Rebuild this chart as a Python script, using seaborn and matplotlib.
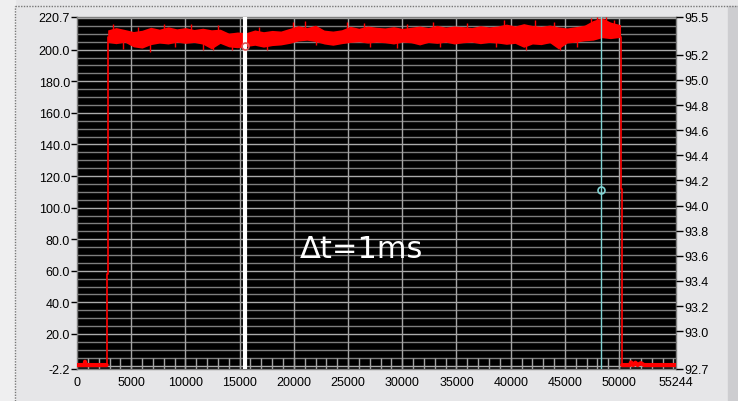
import numpy as np
import seaborn as sns
import matplotlib.pyplot as plt
from matplotlib.lines import Line2D
from matplotlib.patches import Rectangle

# axis ranges and ticks
x_min, x_max = 0, 55244
y_min, y_max = -2.2, 220.7
r_min, r_max = 92.7, 95.5

x_ticks = [0, 5000, 10000, 15000, 20000, 25000, 30000, 35000, 40000, 45000, 50000, 55244]
y_ticks = [-2.2, 20, 40, 60, 80, 100, 120, 140, 160, 180, 200, 220.7]
y_labels = ['-2.2', '20.0', '40.0', '60.0', '80.0', '100.0', '120.0', '140.0',
            '160.0', '180.0', '200.0', '220.7']
r_ticks = [92.7, 93.0, 93.2, 93.4, 93.6, 93.8, 94.0, 94.2, 94.4, 94.6, 94.8, 95.0, 95.2, 95.5]

# trace: low level, rising edge, falling edge, low level again
low_start_x = [0, 700, 740, 790, 2733]
low_start_y = [0.3, 0.3, 2.4, 0.3, 0.3]
rise_x = [2733, 2733, 2826, 2826]
rise_y = [0.3, 58.0, 58.0, 208.0]
fall_x = [50130, 50130, 50277, 50277]
fall_y = [208.0, 111.5, 111.5, 0.3]
low_end_x = [50277, 51000, 51100, 51300, 51500, 51700, 52000, 52300, 53000, 55244]
low_end_y = [0.3, 0.3, 2.0, 0.3, 1.8, 0.3, 1.5, 0.3, 0.3, 0.3]

# noisy plateau, upper and lower envelope
band_x = [2830, 3600, 4400, 5200, 6000, 6800, 7600, 8400, 9200, 10000,
          10800, 11600, 12400, 13200, 14000, 14800, 15600, 16400, 17200, 18000,
          18800, 19600, 20400, 21200, 22000, 22800, 23600, 24400, 25200, 26000,
          26800, 27600, 28400, 29200, 30000, 30800, 31600, 32400, 33200, 34000,
          34800, 35600, 36400, 37200, 38000, 38800, 39600, 40400, 41200, 42000,
          42800, 43600, 44400, 45200, 46000, 46800, 47600, 48400, 49200, 50130]
band_hi = [212.5, 214.0, 212.8, 211.5, 212.3, 214.2, 213.0, 214.5, 213.2, 214.0,
           212.8, 213.6, 212.6, 213.0, 210.5, 211.2, 210.8, 212.5, 211.4, 212.2,
           211.8, 213.5, 215.2, 214.0, 215.5, 212.4, 211.8, 212.6, 214.8, 213.6,
           215.0, 214.2, 213.8, 214.6, 213.5, 214.2, 215.0, 214.0, 215.4, 214.3,
           215.0, 214.6, 214.0, 215.2, 214.4, 215.0, 216.2, 215.0, 216.5, 215.3,
           214.8, 215.6, 214.4, 213.8, 214.6, 215.5, 218.5, 220.2, 217.5, 215.8]
band_lo = [204.6, 203.8, 204.8, 201.8, 201.0, 203.2, 204.2, 203.6, 204.8, 204.0,
           204.6, 203.5, 200.5, 204.0, 201.8, 201.2, 202.0, 202.8, 201.6, 202.6,
           203.0, 204.0, 205.5, 206.0, 205.2, 203.6, 202.8, 203.8, 204.6, 205.0,
           204.2, 204.8, 204.4, 203.6, 204.8, 204.4, 203.0, 204.6, 204.0, 204.8,
           203.6, 204.4, 204.8, 203.8, 204.6, 204.2, 203.4, 204.0, 201.5, 203.6,
           203.2, 204.4, 200.5, 204.2, 204.8, 205.6, 206.0, 207.6, 207.0, 207.8]
band_mid = 208.5

# single noise spikes sticking out of the band
spike_x = [3300, 4200, 5600, 6700, 8000, 9000, 10500, 11600, 12500, 13000,
           14300, 16800, 17500, 19900, 21000, 22000, 24900, 26500, 27000, 29500,
           30400, 32800, 33500, 36000, 38600, 39400, 41400, 42200, 44000, 44500,
           46100, 47400, 48000, 48800, 49500]
spike_y = [216.0, 200.5, 214.5, 198.7, 216.5, 202.0, 216.0, 200.0, 199.5, 215.5,
           199.8, 214.5, 200.0, 217.5, 218.0, 203.0, 217.5, 217.0, 202.0, 201.0,
           216.5, 217.5, 201.5, 217.0, 201.5, 218.5, 199.8, 218.5, 217.5, 199.5,
           202.0, 220.0, 221.0, 220.5, 219.0]

# cursors
cursor1_x, cursor1_y = 15533, 202.5
cursor2_x, cursor2_y = 48310, 111.2

sns.set_style('dark')
plt.rcParams['font.family'] = ['Liberation Sans', 'DejaVu Sans']

fig = plt.figure(figsize=(7.38, 4.02), dpi=100, facecolor='#E6E6E8')
ax = fig.add_axes([77 / 738, 1 - 370 / 402, 599 / 738, 352 / 402])
ax.set_facecolor('black')

# panel decoration
fig.patches.append(Rectangle((0, 0), 15 / 738, 1, transform=fig.transFigure,
                             color='#EFEFF0', zorder=-5))
fig.patches.append(Rectangle((728 / 738, 0), 10 / 738, 1 - 7 / 402, transform=fig.transFigure,
                             color='#CDCDD0', zorder=-5))
fig.lines.append(Line2D([15 / 738, 1], [1 - 7 / 402, 1 - 7 / 402], transform=fig.transFigure,
                        color='#777777', lw=1, ls=(0, (1, 1))))
fig.lines.append(Line2D([15 / 738, 15 / 738], [0, 1 - 7 / 402], transform=fig.transFigure,
                        color='#777777', lw=1, ls=(0, (1, 1))))

# grid
for v in np.arange(0, 221, 5):
    c = '#ABABAB' if v % 20 == 0 else '#7E7E7E'
    ax.axhline(v, color=c, lw=1, zorder=1)
for v in x_ticks[1:-1]:
    ax.axvline(v, color='#A4A4A4', lw=1, zorder=1)
# short minor ticks inside the bottom edge
ax.vlines(np.arange(1000, 55244, 1000), 0, 0.03, transform=ax.get_xaxis_transform(),
          color='#A4A4A4', lw=1, zorder=1)

# trace
ax.fill_between(band_x, band_lo, band_hi, color='red', lw=0, zorder=3)
ax.vlines(spike_x, band_mid, spike_y, color='red', lw=1, zorder=3)
sns.lineplot(x=low_start_x, y=low_start_y, sort=False, estimator=None, color='red', lw=3, ax=ax, zorder=3)
sns.lineplot(x=rise_x, y=rise_y, sort=False, estimator=None, color='red', lw=1.2, ax=ax, zorder=3)
sns.lineplot(x=fall_x, y=fall_y, sort=False, estimator=None, color='red', lw=1.2, ax=ax, zorder=3)
sns.lineplot(x=low_end_x, y=low_end_y, sort=False, estimator=None, color='red', lw=3, ax=ax, zorder=3)

# cursors
ax.axvline(cursor1_x, color='white', lw=3, zorder=4)
ax.plot([cursor1_x], [cursor1_y], 'o', ms=5, mfc='none', mec='#E05050', mew=1.2, zorder=5)
ax.axvline(cursor2_x, color='#7FD4D4', lw=1, zorder=4)
ax.plot([cursor2_x], [cursor2_y], 'o', ms=5, mfc='none', mec='#7FD4D4', mew=1.2, zorder=5)

ax.text(26240, 73.8, '\u0394t=1ms', color='white', fontsize=22, ha='center', va='center',
        family=['DejaVu Sans'], zorder=6)

ax.set_xlim(x_min, x_max)
ax.set_ylim(y_min, y_max)
ax.set_xticks(x_ticks)
ax.set_xticklabels([str(t) for t in x_ticks])
ax.set_yticks(y_ticks)
ax.set_yticklabels(y_labels)
ax.tick_params(axis='both', which='major', labelsize=9, colors='black', length=4, width=1,
               direction='out', pad=1)
ax.grid(False)
for s in ax.spines.values():
    s.set_color('#808080')
    s.set_linewidth(1)

ax2 = ax.twinx()
ax2.set_ylim(r_min, r_max)
ax2.set_yticks(r_ticks)
ax2.set_yticklabels([f'{t:.1f}' for t in r_ticks])
ax2.tick_params(axis='y', labelsize=9, colors='black', length=5, width=1, direction='out', pad=1)
ax2.grid(False)
for s in ax2.spines.values():
    s.set_visible(False)

fig.savefig('out.png', dpi=100, facecolor=fig.get_facecolor())
